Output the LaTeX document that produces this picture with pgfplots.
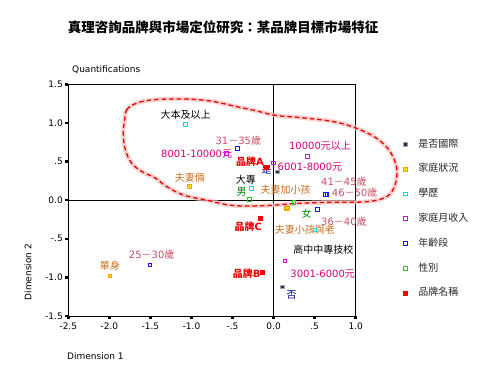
\documentclass[border=0pt]{standalone}
\usepackage{pgfplots}
\pgfplotsset{compat=1.18}
\usepackage{fontspec}
\setmainfont{DejaVu Sans}
\newfontfamily\cjk{Noto Sans CJK TC}
\definecolor{cNavy}{RGB}{30,45,90}
\definecolor{cYel}{RGB}{255,215,0}
\definecolor{cYelE}{RGB}{255,160,0}
\definecolor{cCyan}{RGB}{0,220,230}
\definecolor{cMag}{RGB}{230,0,230}
\definecolor{cBlue}{RGB}{20,20,255}
\definecolor{cGreen}{RGB}{0,220,0}
\definecolor{cRed}{RGB}{240,0,0}
\definecolor{tAge}{RGB}{200,80,100}
\definecolor{tInc}{RGB}{210,0,120}
\definecolor{tFam}{RGB}{200,110,30}
\definecolor{tGen}{RGB}{0,130,0}
\definecolor{tYN}{RGB}{0,0,150}
\newcommand{\lbl}[4]{\node[font=\fontsize{10}{12}\selectfont, text=#3, inner sep=0pt] at (axis cs:#1,#2) {#4};}
\newcommand{\blbl}[3]{\node[font=\fontsize{10}{12}\selectfont\bfseries, text=cRed, inner sep=0pt] at (axis cs:#1,#2) {{\cjk\bfseries 品牌}#3};}
\begin{document}
\begin{tikzpicture}
\useasboundingbox (-68.3pt,-66pt) rectangle (429.7pt,316pt);
\begin{axis}[
  scale only axis, width=287.4pt, height=231.7pt,
  xmin=-2.5, xmax=1.0, ymin=-1.5, ymax=1.5,
  xtick={-2.5,-2,-1.5,-1,-0.5,0,0.5,1},
  xticklabels={-2.5,-2.0,-1.5,-1.0,-.5,0.0,.5,1.0},
  ytick={-1.5,-1,-0.5,0,0.5,1,1.5},
  yticklabels={-1.5,-1.0,-.5,0.0,.5,1.0,1.5},
  xtick pos=bottom, ytick pos=left,
  tick align=outside, major tick length=3pt,
  tick style={black, line width=2.5pt},
  ticklabel style={font=\fontsize{9}{10}\selectfont},
  yticklabel style={xshift=1pt},
  axis line style={black, line width=0.6pt},
  clip=false,
  legend image code/.code={\path[draw=none, fill=none] (0pt,-2pt) rectangle (16pt,2pt); \draw[#1, mark repeat=1] plot coordinates {(5pt,0pt)};},
  legend style={at={(1.1545,0.764)}, anchor=north west, draw=none, fill=none,
    font=\cjk\fontsize{10}{12}\selectfont, row sep=14.8pt, inner sep=0pt,
    text=black!85,
    nodes={inner xsep=2pt, inner ysep=0pt, text height=8pt, text depth=2pt}},
  legend cell align=left,
]
\draw[black, line width=0.6pt] (axis cs:0,-1.5) -- (axis cs:0,1.5);
\draw[black, line width=0.6pt] (axis cs:-2.5,0) -- (axis cs:1,0);

% 是否國際
\addplot[only marks, mark=square*, mark size=1.8pt, mark options={fill=cNavy, draw=gray!70, line width=0.4pt}]
  coordinates {(0.041,0.369) (0.106,-1.120)};
\addlegendentry{是否國際}
% 家庭狀況
\addplot[only marks, mark=square*, mark size=1.8pt, mark options={fill=cYel, draw=cYelE, line width=0.5pt}]
  coordinates {(-1.993,-0.978) (-1.027,0.177) (0.151,-0.105) (0.163,-0.100)};
\addlegendentry{家庭狀況}
% 學歷
\addplot[only marks, mark=square, mark size=1.8pt, mark options={draw=cCyan, line width=0.8pt}]
  coordinates {(-1.071,0.983) (-0.267,0.154) (0.504,-0.386)};
\addlegendentry{學歷}
% 家庭月收入
\addplot[only marks, mark=square, mark size=1.8pt, mark options={draw=cMag, line width=0.8pt}]
  coordinates {(0.139,-0.788) (-0.004,0.482) (-0.571,0.607) (0.410,0.563)};
\addlegendentry{家庭月收入}
% 年齡段
\addplot[only marks, mark=square, mark size=1.8pt, mark options={draw=cBlue, line width=0.8pt}]
  coordinates {(-1.505,-0.839) (-0.442,0.672) (0.532,-0.118) (0.632,0.076) (0.650,0.076)};
\addlegendentry{年齡段}
% 性別
\addplot[only marks, mark=square, mark size=1.8pt, mark options={draw=cGreen, line width=0.8pt}]
  coordinates {(-0.296,0.012) (0.248,-0.032)};
\addlegendentry{性別}
% 品牌名稱
\addplot[only marks, mark=square*, mark size=2pt, mark options={fill=cRed, draw=cRed}]
  coordinates {(-0.089,0.427) (-0.133,-0.934) (-0.157,-0.234)};
\addlegendentry{品牌名稱}

% labels
\lbl{-1.071}{1.104}{black}{\cjk 大本及以上}
\lbl{-0.43}{0.767}{tAge}{31{\cjk －}35{\cjk 歲}}
\lbl{-0.937}{0.598}{tInc}{8001-10000{\cjk 元}}
\lbl{0.565}{0.702}{tInc}{10000{\cjk 元以上}}
\blbl{-0.287}{0.499}{A}
\lbl{0.443}{0.426}{tInc}{6001-8000{\cjk 元}}
\lbl{-0.084}{0.391}{tYN}{\cjk 是}
\lbl{-1.018}{0.291}{tFam}{\cjk 夫妻倆}
\lbl{-0.336}{0.262}{black}{\cjk 大專}
\lbl{-0.389}{0.106}{tGen}{\cjk 男}
\lbl{0.147}{0.132}{tFam}{\cjk 夫妻加小孩}
\lbl{0.857}{0.233}{tAge}{41{\cjk －}45{\cjk 歲}}
\lbl{0.988}{0.096}{tAge}{46{\cjk －}50{\cjk 歲}}
\lbl{0.403}{-0.17}{tGen}{\cjk 女}
\lbl{0.857}{-0.278}{tAge}{36{\cjk －}40{\cjk 歲}}
\blbl{-0.308}{-0.343}{C}
\lbl{0.382}{-0.386}{tFam}{\cjk 夫妻小孩與老}
\lbl{0.605}{-0.636}{black}{\cjk 高中中專技校}
\lbl{0.598}{-0.956}{tInc}{3001-6000{\cjk 元}}
\blbl{-0.328}{-0.947}{B}
\lbl{0.22}{-1.228}{tYN}{\cjk 否}
\lbl{-1.485}{-0.71}{tAge}{25{\cjk －}30{\cjk 歲}}
\lbl{-1.993}{-0.852}{tFam}{\cjk 單身}

% highlight outline
\draw[red!25, line width=4.5pt, opacity=0.7] plot[smooth cycle, tension=0.6] coordinates {
 (-1.81,1.06) (-1.79,1.17) (-1.67,1.255) (-1.46,1.30) (-1.10,1.31) (-0.775,1.285)
 (-0.49,1.22) (-0.206,1.155) (0.038,1.095) (0.32,1.07) (0.727,1.017) (1.012,0.93)
 (1.256,0.80) (1.418,0.63) (1.50,0.413) (1.479,0.197) (1.378,0.045) (1.134,-0.02)
 (0.727,-0.027) (0.32,-0.04) (-0.084,-0.07) (-0.49,-0.07) (-0.815,0.0) (-1.10,0.067)
 (-1.30,0.175) (-1.445,0.29) (-1.587,0.36) (-1.728,0.477) (-1.81,0.67) (-1.83,0.887)};
\draw[red!90!black, line width=1.3pt, dash pattern=on 4.5pt off 3pt] plot[smooth cycle, tension=0.6] coordinates {
 (-1.81,1.06) (-1.79,1.17) (-1.67,1.255) (-1.46,1.30) (-1.10,1.31) (-0.775,1.285)
 (-0.49,1.22) (-0.206,1.155) (0.038,1.095) (0.32,1.07) (0.727,1.017) (1.012,0.93)
 (1.256,0.80) (1.418,0.63) (1.50,0.413) (1.479,0.197) (1.378,0.045) (1.134,-0.02)
 (0.727,-0.027) (0.32,-0.04) (-0.084,-0.07) (-0.49,-0.07) (-0.815,0.0) (-1.10,0.067)
 (-1.30,0.175) (-1.445,0.29) (-1.587,0.36) (-1.728,0.477) (-1.81,0.67) (-1.83,0.887)};
\end{axis}
\node[font=\cjk\bfseries\fontsize{13.5}{15}\selectfont, inner sep=0pt] at (154.7pt,289pt) {真理咨詢品牌與市場定位研究：某品牌目標市場特征};
\node[font=\fontsize{9}{10}\selectfont, anchor=west, inner sep=0pt] at (3.7pt,246pt) {Quantifications};
\node[font=\fontsize{9}{10}\selectfont, anchor=west, inner sep=0pt] at (-1.3pt,-40pt) {Dimension 1};
\node[font=\fontsize{9}{10}\selectfont, rotate=90, inner sep=0pt] at (-40.3pt,44pt) {Dimension 2};
\end{tikzpicture}
\end{document}
